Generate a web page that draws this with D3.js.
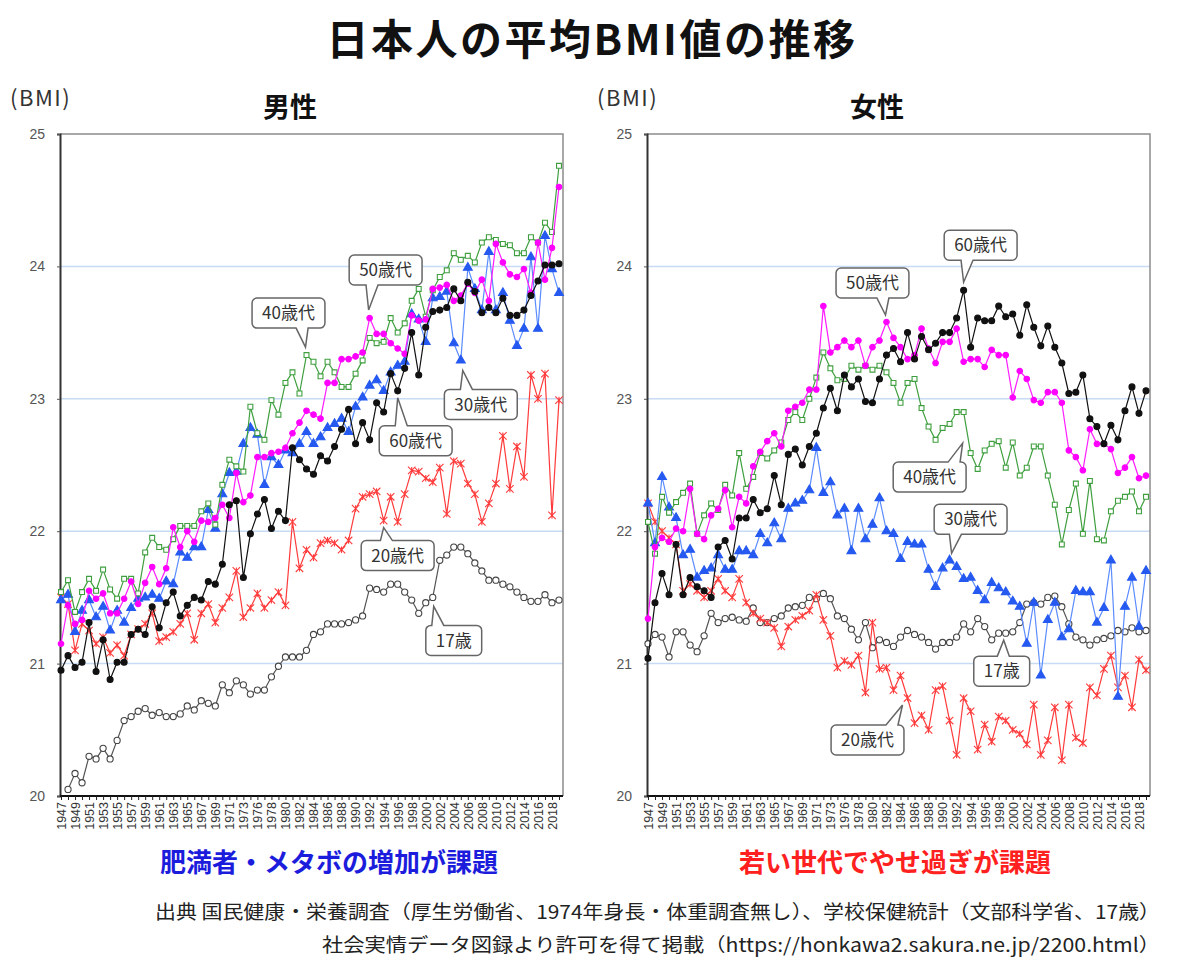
<!DOCTYPE html>
<html>
<head>
<meta charset="utf-8">
<script src="https://cdn.jsdelivr.net/npm/d3@7"></script>
<style>
body { margin: 0; background: #fff; }
svg { display: block; font-family: "Noto Sans CJK JP", "Noto Sans", sans-serif; }
</style>
</head>
<body>
<svg width="1185" height="974"></svg>
<script>
// categories (no survey in 1974)
const years = [1947,1948,1949,1950,1951,1952,1953,1954,1955,1956,1957,1958,1959,1960,
  1961,1962,1963,1964,1965,1966,1967,1968,1969,1970,1971,1972,1973,
  1975,1976,1977,1978,1979,1980,1981,1982,1983,1984,1985,1986,1987,1988,1989,1990,
  1991,1992,1993,1994,1995,1996,1997,1998,1999,2000,2001,2002,2003,2004,2005,2006,
  2007,2008,2009,2010,2011,2012,2013,2014,2015,2016,2017,2018,2019];
const tickYears = [1947,1949,1951,1953,1955,1957,1959,1961,1963,1965,1967,1969,1971,1973,
  1976,1978,1980,1982,1984,1986,1988,1990,1992,1994,1996,1998,2000,2002,2004,2006,
  2008,2010,2012,2014,2016,2018];
const yTicks = [20, 21, 22, 23, 24, 25];
const gridValues = [21, 22, 23, 24];
const ageLabels = ["17歳", "20歳代", "30歳代", "40歳代", "50歳代", "60歳代"];

// 男性
const male17 = [null,20.05,20.17,20.1,20.3,20.28,20.36,20.28,20.42,20.57,20.6,20.64,20.66,20.61,20.63,20.6,20.6,20.62,20.68,20.65,20.72,20.7,20.68,20.84,20.78,20.87,20.84,20.77,20.8,20.8,20.9,20.98,21.05,21.05,21.05,21.1,21.22,21.24,21.3,21.3,21.3,21.31,21.33,21.36,21.57,21.56,21.54,21.6,21.6,21.54,21.48,21.38,21.46,21.5,21.78,21.82,21.88,21.88,21.83,21.76,21.7,21.63,21.63,21.6,21.58,21.54,21.5,21.47,21.47,21.52,21.46,21.48];
const male20 = [21.5,21.45,21.1,21.3,21.25,21.15,21.2,21.08,21.14,21.06,21.22,21.26,21.3,21.38,21.17,21.2,21.24,21.3,21.38,21.18,21.38,21.45,21.31,21.42,21.5,21.7,21.35,21.42,21.53,21.42,21.48,21.54,21.44,22.07,21.72,21.86,21.8,21.91,21.93,21.91,21.86,21.93,22.17,22.26,22.28,22.3,22.08,22.26,22.07,22.28,22.46,22.45,22.4,22.37,22.48,22.13,22.53,22.51,22.36,22.28,22.07,22.21,22.36,22.72,22.32,22.64,22.41,23.18,23.0,23.19,22.12,22.99];
const male30 = [21.48,21.52,21.24,21.4,21.48,21.35,21.43,21.25,21.4,21.31,21.42,21.49,21.5,21.52,21.49,21.62,21.6,21.84,21.8,21.88,21.88,22.16,22.02,22.28,22.44,22.45,22.66,22.78,22.73,22.35,22.56,22.5,22.61,22.59,22.66,22.75,22.66,22.71,22.78,22.81,22.85,22.75,22.94,23.01,23.1,23.14,23.06,23.2,23.25,23.28,23.64,23.6,23.43,23.76,23.77,23.81,23.42,23.29,23.99,23.83,23.67,24.11,23.67,23.8,23.59,23.4,23.53,24.07,23.53,24.23,23.98,23.8];
const male40 = [21.54,21.63,21.39,21.54,21.64,21.55,21.71,21.56,21.49,21.64,21.64,21.53,21.84,21.95,21.88,21.86,21.94,22.04,22.04,22.04,22.15,22.21,22.05,22.35,22.54,22.49,22.45,22.94,22.74,22.69,22.99,22.88,23.12,23.2,23.04,23.33,23.28,23.17,23.28,23.2,23.09,23.09,23.19,23.29,23.46,23.42,23.43,23.61,23.5,23.57,23.74,23.83,23.62,23.82,23.92,23.97,24.1,24.05,24.08,24.03,24.18,24.22,24.2,24.17,24.16,24.1,24.1,24.22,24.18,24.33,24.26,24.76];
const male50 = [21.15,21.44,21.3,21.33,21.55,21.49,21.53,21.38,21.38,21.49,21.62,21.45,21.61,21.73,21.6,21.72,22.03,21.88,22.0,21.92,22.08,22.07,22.1,22.2,22.1,22.44,22.22,22.27,22.56,22.56,22.59,22.6,22.63,22.74,22.82,22.91,22.88,22.85,23.12,23.12,23.3,23.3,23.32,23.35,23.61,23.49,23.49,23.42,23.38,23.34,23.63,23.59,23.6,23.83,23.84,23.86,23.74,23.78,23.87,23.8,23.9,23.74,24.17,24.03,23.94,23.92,23.98,23.8,24.18,23.9,24.14,24.6];
const male60 = [20.95,21.06,20.97,21.01,21.31,20.94,21.18,20.88,21.01,21.01,21.22,21.26,21.22,21.43,21.27,21.46,21.54,21.36,21.44,21.5,21.48,21.62,21.6,21.75,22.2,22.23,21.65,21.98,22.13,22.24,22.02,22.15,22.08,22.63,22.54,22.47,22.43,22.57,22.53,22.64,22.77,22.92,22.66,22.82,22.69,22.97,22.9,23.19,23.06,23.23,23.5,23.18,23.54,23.66,23.67,23.69,23.83,23.74,23.88,23.81,23.65,23.69,23.65,23.76,23.63,23.63,23.67,23.78,23.89,24.01,24.01,24.02];

// 女性
const female17 = [21.15,21.22,21.2,21.05,21.24,21.24,21.14,21.09,21.21,21.38,21.31,21.34,21.35,21.33,21.32,21.42,21.31,21.31,21.34,21.36,21.42,21.43,21.44,21.5,21.49,21.53,21.49,21.36,21.34,21.26,21.18,21.31,21.12,21.18,21.16,21.13,21.2,21.25,21.22,21.2,21.16,21.11,21.16,21.16,21.2,21.3,21.24,21.34,21.28,21.18,21.23,21.23,21.24,21.31,21.45,21.46,21.45,21.5,21.51,21.43,21.3,21.2,21.18,21.14,21.18,21.19,21.21,21.25,21.24,21.27,21.24,21.25];
const female20 = [22.21,22.07,22.0,21.95,21.9,21.55,21.6,21.55,21.5,21.55,21.64,21.55,21.5,21.64,21.46,21.38,21.34,21.31,21.27,21.13,21.28,21.33,21.36,21.4,21.52,21.33,21.21,20.97,21.02,20.99,21.06,20.78,21.31,20.96,20.97,20.8,20.91,20.74,20.55,20.61,20.5,20.8,20.83,20.57,20.31,20.74,20.64,20.35,20.54,20.41,20.6,20.57,20.5,20.47,20.39,20.69,20.31,20.42,20.67,20.27,20.69,20.44,20.4,20.82,20.76,20.96,21.06,20.82,20.91,20.67,21.03,20.95];
const female30 = [22.21,21.91,22.41,22.18,22.1,21.82,21.86,21.65,21.7,21.72,21.82,21.71,21.71,21.85,21.85,21.82,21.98,21.91,22.06,21.94,22.17,22.21,22.23,22.31,22.63,22.29,22.37,22.12,22.17,21.85,22.17,21.94,22.05,22.25,22.0,21.98,21.79,21.92,21.9,21.9,21.71,21.58,21.72,21.78,21.73,21.64,21.65,21.55,21.48,21.61,21.57,21.54,21.47,21.43,21.15,21.46,20.91,21.33,21.46,21.2,21.26,21.55,21.54,21.54,21.31,21.42,21.78,20.75,21.43,21.65,21.28,21.7];
const female40 = [22.07,21.83,22.26,22.14,22.22,22.29,22.36,21.98,22.12,22.21,22.16,22.35,22.27,22.59,22.32,22.41,22.59,22.55,22.61,22.67,22.84,22.9,22.84,23.0,23.16,23.35,23.23,23.14,23.15,23.25,23.22,23.25,23.22,23.25,23.2,23.12,22.97,23.12,23.15,22.93,22.79,22.69,22.78,22.81,22.9,22.9,22.59,22.47,22.61,22.66,22.68,22.48,22.67,22.42,22.48,22.64,22.64,22.42,22.2,21.9,22.16,22.36,21.98,22.38,21.94,21.93,22.15,22.23,22.26,22.3,22.15,22.26];
const female50 = [21.34,21.88,21.95,21.92,22.02,22.0,22.32,21.98,21.94,22.12,22.17,22.31,22.03,22.26,22.21,22.49,22.6,22.68,22.74,22.64,22.91,22.94,22.97,23.07,23.07,23.7,23.35,23.39,23.44,23.39,23.44,23.25,23.39,23.44,23.58,23.46,23.39,23.3,23.33,23.53,23.38,23.27,23.43,23.43,23.53,23.28,23.3,23.3,23.24,23.37,23.33,23.33,23.01,23.21,23.15,22.99,22.97,23.05,23.05,22.97,22.61,22.56,22.46,22.77,22.66,22.66,22.62,22.44,22.48,22.56,22.4,22.42];
const female60 = [21.04,21.46,21.68,21.52,21.9,21.52,21.65,21.58,21.55,21.5,21.88,21.93,21.79,22.1,22.1,22.24,22.14,22.17,22.42,22.2,22.58,22.62,22.5,22.64,22.74,22.93,23.08,22.91,23.18,23.09,23.15,22.98,22.97,23.15,23.33,23.38,23.28,23.5,23.3,23.47,23.37,23.42,23.5,23.5,23.61,23.82,23.39,23.61,23.59,23.59,23.7,23.62,23.64,23.48,23.71,23.54,23.4,23.55,23.39,23.27,23.04,23.05,23.18,22.85,22.79,22.66,22.8,22.69,22.91,23.09,22.89,23.06];

// styles for each age group
const starSymbol = {
  draw(ctx, size) {
    const r = Math.sqrt(size) * 0.62;
    ctx.moveTo(-r, -r); ctx.lineTo(r, r);
    ctx.moveTo(-r, r); ctx.lineTo(r, -r);
    ctx.moveTo(0, -r * 0.9); ctx.lineTo(0, r * 0.9);
  }
};
const seriesStyle = [
  { line: "#555", type: d3.symbolCircle, size: 30, fill: "#fff", stroke: "#444" },
  { line: "#ff3b3b", type: starSymbol, size: 36, fill: "none", stroke: "#ff3b3b" },
  { line: "#5b8cff", type: d3.symbolTriangle, size: 34, fill: "#2559f0", stroke: "#2559f0" },
  { line: "#3f9f3f", type: d3.symbolSquare, size: 24, fill: "#fff", stroke: "#3f9f3f" },
  { line: "#ff1cff", type: d3.symbolCircle, size: 24, fill: "#ff00ff", stroke: "#ff00ff" },
  { line: "#111", type: d3.symbolCircle, size: 28, fill: "#111", stroke: "#111" }
];

const panels = [
  { title: "男性", left: 60, series: [male17, male20, male30, male40, male50, male60],
    note: "肥満者・メタボの増加が課題", noteColor: "#1c1cdc", noteX: 329,
    callouts: [
      { label: "40歳代", s: 3, year: 1983, tx: -1, ty: -8, bx: -18, by: -42 },
      { label: "50歳代", s: 4, year: 1992, tx: -1, ty: -8, bx: 16, by: -48 },
      { label: "30歳代", s: 2, year: 2005, tx: 2, ty: 10, bx: 20, by: 44 },
      { label: "60歳代", s: 5, year: 1996, tx: 0, ty: 7, bx: 18, by: 50 },
      { label: "20歳代", s: 1, year: 1994, tx: 0, ty: 7, bx: 14, by: 35 },
      { label: "17歳", s: 0, year: 2001, tx: 1, ty: 9, bx: 21, by: 43 }
    ] },
  { title: "女性", left: 647, series: [female17, female20, female30, female40, female50, female60],
    note: "若い世代でやせ過ぎが課題", noteColor: "#ff2020", noteX: 895,
    callouts: [
      { label: "50歳代", s: 4, year: 1982, tx: -1, ty: -7, bx: -14, by: -39 },
      { label: "60歳代", s: 5, year: 1993, tx: 0, ty: -8, bx: 17, by: -45 },
      { label: "40歳代", s: 3, year: 1994, tx: -8, ty: -10, bx: -41, by: 24 },
      { label: "30歳代", s: 2, year: 1991, tx: 2, ty: -7, bx: 21, by: -41 },
      { label: "17歳", s: 0, year: 1999, tx: -2, ty: 7, bx: -4, by: 38 },
      { label: "20歳代", s: 1, year: 1985, tx: -5, ty: 7, bx: -40, by: 42 }
    ] }
];

const svg = d3.select("svg");
const y = d3.scaleLinear().domain([20, 25]).range([796, 134]);

svg.append("text")
  .attr("x", 592).attr("y", 55)
  .attr("text-anchor", "middle")
  .style("font-size", "42px").style("font-weight", 700).style("fill", "#111")
  .style("letter-spacing", "2.5px")
  .text("日本人の平均BMI値の推移");

function calloutPath(bx0, by0, w, h, r, tip) {
  const bx1 = bx0 + w, by1 = by0 + h;
  const top = tip[1] < by0;
  const cx = Math.max(bx0 + r + 7, Math.min(bx1 - r - 7, tip[0] + ((bx0 + bx1) / 2 - tip[0]) * 0.2));
  const hw = 6;
  let d = `M${bx0 + r},${by0}`;
  if (top) d += `L${cx - hw},${by0}L${tip[0]},${tip[1]}L${cx + hw},${by0}`;
  d += `L${bx1 - r},${by0}A${r},${r} 0 0 1 ${bx1},${by0 + r}L${bx1},${by1 - r}A${r},${r} 0 0 1 ${bx1 - r},${by1}`;
  if (!top) d += `L${cx + hw},${by1}L${tip[0]},${tip[1]}L${cx - hw},${by1}`;
  d += `L${bx0 + r},${by1}A${r},${r} 0 0 1 ${bx0},${by1 - r}L${bx0},${by0 + r}A${r},${r} 0 0 1 ${bx0 + r},${by0}Z`;
  return d;
}

panels.forEach(p => {
  const x0 = p.left, x1 = p.left + 503;
  const x = d3.scalePoint().domain(years).range([x0 + 1, x0 + 499]);
  const g = svg.append("g");

  // headings
  g.append("text").attr("x", x0 - 50).attr("y", 106)
    .style("font-size", "22px").style("letter-spacing", "1.5px").style("fill", "#333").text("(BMI)");
  g.append("text").attr("x", x0 + 230).attr("y", 117).attr("text-anchor", "middle")
    .style("font-size", "27px").style("font-weight", 700).style("fill", "#111").text(p.title);

  // grid lines
  g.selectAll(".grid").data(gridValues).join("line").attr("class", "grid")
    .attr("x1", x0).attr("x2", x1)
    .attr("y1", d => y(d)).attr("y2", d => y(d))
    .attr("stroke", "#c8dbf5").attr("stroke-width", 1.5);

  // top and right border
  g.append("path").attr("d", `M${x0},${y(25)}H${x1}V${y(20)}`)
    .attr("fill", "none").attr("stroke", "#8c8c8c").attr("stroke-width", 1.5);

  // y axis
  const ya = g.append("g").attr("transform", `translate(${x0},0)`)
    .call(d3.axisLeft(y).tickValues(yTicks).tickSize(3).tickPadding(12).tickFormat(d3.format("d")));
  ya.select(".domain").attr("stroke", "#333").attr("stroke-width", 2);
  ya.selectAll(".tick line").attr("stroke", "#555");
  ya.selectAll(".tick text").style("font-family", "'Liberation Sans', Arial, sans-serif")
    .style("font-size", "14px").style("fill", "#555");

  // x axis
  const xa = g.append("g").attr("transform", `translate(0,${y(20)})`)
    .call(d3.axisBottom(x).tickSize(4).tickFormat(d => tickYears.includes(d) ? d : ""));
  xa.select(".domain").attr("d", `M${x0},0H${x1}`).attr("stroke", "#111").attr("stroke-width", 2);
  xa.selectAll(".tick line").attr("stroke", "#222");
  xa.selectAll(".tick text")
    .attr("transform", "rotate(-90)")
    .attr("x", -6).attr("y", 0).attr("dy", "0.35em")
    .attr("text-anchor", "end")
    .style("font-family", "'Liberation Sans', Arial, sans-serif")
    .style("font-size", "12.5px").style("fill", "#333");

  // series
  p.series.forEach((vals, si) => {
    const st = seriesStyle[si];
    const pts = years.map((yr, i) => ({ yr, v: vals[i] })).filter(d => d.v != null);
    const line = d3.line().x(d => x(d.yr)).y(d => y(d.v));
    g.append("path").datum(pts)
      .attr("fill", "none").attr("stroke", st.line).attr("stroke-width", 1.2)
      .attr("stroke-linejoin", "round").attr("d", line);
    g.append("g").selectAll("path").data(pts).join("path")
      .attr("transform", d => `translate(${x(d.yr)},${y(d.v)})`)
      .attr("d", d3.symbol().type(st.type).size(st.size))
      .attr("fill", st.fill).attr("stroke", st.stroke).attr("stroke-width", 1.1);
  });

  // callouts
  p.callouts.forEach(c => {
    const i = years.indexOf(c.year);
    const px = x(c.year), py = y(p.series[c.s][i]);
    const tip = [px + c.tx, py + c.ty];
    const cg = g.append("g");
    const t = cg.append("text")
      .attr("x", px + c.bx).attr("y", py + c.by).attr("dy", "0.36em")
      .attr("text-anchor", "middle")
      .style("font-size", "17px").style("fill", "#333").text(c.label);
    const w = t.node().getComputedTextLength() + 20, h = 30;
    cg.insert("path", "text")
      .attr("d", calloutPath(px + c.bx - w / 2, py + c.by - h / 2, w, h, 5, tip))
      .attr("fill", "#fff").attr("stroke", "#666").attr("stroke-width", 1.5);
  });

  // note
  svg.append("text").attr("x", p.noteX).attr("y", 872).attr("text-anchor", "middle")
    .style("font-size", "26px").style("font-weight", 700).style("fill", p.noteColor).text(p.note);
});

svg.append("text").attr("x", 1160).attr("y", 919).attr("text-anchor", "end")
  .attr("textLength", 1005).attr("lengthAdjust", "spacingAndGlyphs")
  .style("font-size", "19px").style("fill", "#222")
  .text("出典 国民健康・栄養調査（厚生労働省、1974年身長・体重調査無し）、学校保健統計（文部科学省、17歳）");
svg.append("text").attr("x", 1160).attr("y", 952).attr("text-anchor", "end")
  .attr("textLength", 838).attr("lengthAdjust", "spacingAndGlyphs")
  .style("font-size", "19px").style("fill", "#222")
  .text("社会実情データ図録より許可を得て掲載（https://honkawa2.sakura.ne.jp/2200.html）");
</script>
</body>
</html>
